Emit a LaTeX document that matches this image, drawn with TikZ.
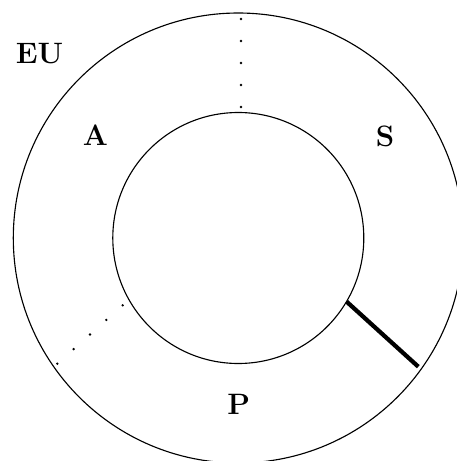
\documentclass[tikz,border=0pt]{standalone}
\usepackage{tikz}
\usetikzlibrary{positioning}
\tikzset{
  ring/.style={draw=black, line width=0.45pt},
  lbl/.style={font=\fontsize{11.8}{14}\selectfont\bfseries, inner sep=0pt},
  dotmark/.style={fill=black},
  cut/.style={line width=1.7pt, line cap=butt},
}

\begin{document}
\begin{tikzpicture}[x=0.4pt, y=0.4pt]
\useasboundingbox (-238.3,-223) rectangle (218.7,238);
% two rings
\draw[ring] (0,0) circle (225);
\draw[ring] (0,0) circle (125.5);
% dotted spokes
\foreach \i in {0,...,4}{
  \fill[dotmark] (2.7,{219-22*\i}) circle (1.3);
  \fill[dotmark] ({-115.6-16.35*\i},{-67.3-14.6*\i}) circle (1.3);
}
% solid spoke
\draw[cut] (108.4,-63.7) -- (180,-128.7);
% region labels
\node[lbl] (eu) at (-198.8,184.5) {EU};
\node[lbl] (a) at (-142.8,102.5) {A};
\node[lbl] (s) at (146.7,102) {S};
\node[lbl] (p) at (0.4,-166) {P};
\end{tikzpicture}
\end{document}
